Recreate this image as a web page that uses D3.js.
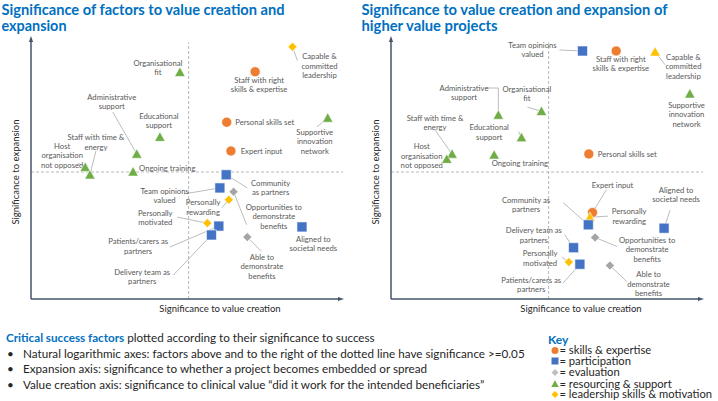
<!DOCTYPE html>
<html><head><meta charset="utf-8">
<script src="https://cdn.jsdelivr.net/npm/d3@7"></script>
<style>
html,body{margin:0;padding:0;background:#fff;}
svg{display:block;font-family:Lato,"Open Sans",sans-serif;}
</style></head><body>
<svg id="chart" width="718" height="401"></svg>
<script>
// ---------------- DATA ----------------
const factors = [
  "Capable & committed leadership", "Staff with right skills & expertise", "Organisational fit",
  "Administrative support", "Educational support", "Personal skills set",
  "Supportive innovation network", "Expert input", "Staff with time & energy",
  "Host organisation not opposed", "Ongoing training", "Community as partners",
  "Team opinions valued", "Opportunities to demonstrate benefits", "Personally rewarding",
  "Personally motivated", "Patients/carers as partners", "Delivery team as partners",
  "Aligned to societal needs", "Able to demonstrate benefits"
];
const groups = [4, 0, 3, 3, 3, 0, 3, 0, 3, 3, 3, 1, 1, 2, 4, 4, 1, 1, 1, 2];
const groupNames = ["skills & expertise", "participation", "evaluation", "resourcing & support", "leadership skills & motivation"];

// all projects: significance (natural log scale) to value creation / expansion
const allValueCreation = [4.97, 4.26, 2.83, 2.01, 2.45, 3.72, 5.64, 3.80, 1.12, 1.03, 1.94, 3.71, 3.59, 3.85, 3.76, 3.35, 3.57, 3.43, 5.15, 4.11];
const allExpansion     = [5.95, 5.36, 5.35, 3.42, 3.82, 4.17, 4.27, 3.49, 2.93, 3.11, 3.00, 2.93, 2.62, 2.53, 2.34, 1.79, 1.72, 1.51, 1.70, 1.46];
// higher value projects
const hvValueCreation  = [5.02, 4.28, 2.86, 2.04, 2.48, 3.76, 5.68, 3.83, 1.16, 1.06, 1.96, 3.75, 3.64, 3.88, 3.78, 3.38, 3.59, 3.47, 5.19, 4.16];
const hvExpansion      = [5.83, 5.85, 4.43, 4.34, 3.81, 3.42, 4.84, 2.04, 3.42, 3.30, 3.40, 1.75, 5.85, 1.45, 1.93, 0.87, 0.82, 1.21, 1.67, 0.79];

const threshold = -Math.log(0.05);
const xDomain = [0, 5.93];
const yDomain = [0, 6.18];

const chartTitles = [
  ["Significance of factors to value creation and", "expansion"],
  ["Significance to value creation and expansion of", "higher value projects"]
];
const xAxisTitle = "Significance to value creation";
const yAxisTitle = "Significance to expansion";
const introLead = "Critical success factors";
const introRest = " plotted according to their significance to success";
const bullets = [
  "Natural logarithmic axes: factors above and to the right of the dotted line have significance >=0.05",
  "Expansion axis: significance to whether a project becomes embedded or spread",
  "Value creation axis: significance to clinical value \u201cdid it work for the intended beneficiaries\u201d"
];

// ---------------- STYLE / LAYOUT ----------------
const colors = ["#ED7D31", "#4472C4", "#A5A5A5", "#70AD47", "#FFC000"];
const shapes = ["circle", "square", "diamond", "triangle", "diamond"];
const labelColor = "#595959";
const axisColor = "#44546A";

const leftLabels = [
  {l:["Capable &","committed","leadership"], dx:27, dy:10, a:"middle", ld:[[5,14]]},
  {l:["Staff with right","skills & expertise"], dx:4, dy:8.5, a:"middle"},
  {l:["Organisational","fit"], dx:-22, dy:-9, a:"middle"},
  {l:["Administrative","support"], dx:-25, dy:-57, a:"middle", ld:[[-24,-42]]},
  {l:["Educational","support"], dx:-1, dy:-21, a:"middle"},
  {l:["Personal skills set"], dx:8.5, dy:0, a:"start"},
  {l:["Supportive","innovation","network"], dx:-13, dy:14, a:"middle", ld:[[-11,9]]},
  {l:["Expert input"], dx:9.7, dy:0, a:"start"},
  {l:["Staff with time &","energy"], dx:6, dy:-37, a:"middle", ld:[[6,-24]]},
  {l:["Host","organisation","not opposed"], dx:-23, dy:-21, a:"middle", ld:[[-7,-4]]},
  {l:["Ongoing training"], dx:6, dy:-3.7, a:"start"},
  {l:["Community","as partners"], dx:44.4, dy:8.3, a:"middle", ld:[[21,13]]},
  {l:["Team opinions","valued"], dx:-55.3, dy:3, a:"middle", ld:[[-36,6]]},
  {l:["Opportunities to","demonstrate","benefits"], dx:40.3, dy:15.3, a:"middle", ld:[[13,33]]},
  {l:["Personally","rewarding"], dx:-25.7, dy:3, a:"middle", ld:[[-7,8]]},
  {l:["Personally","motivated"], dx:-52, dy:-10.3, a:"middle", ld:[[-30,-6]]},
  {l:["Patients/carers as","partners"], dx:-80.7, dy:15.7, a:"middle", ld:[[-49,21]]},
  {l:["Delivery team as","partners"], dx:-69.3, dy:37, a:"middle", ld:[[-38,40]]},
  {l:["Aligned to","societal needs"], dx:11.3, dy:12, a:"middle"},
  {l:["Able to","demonstrate","benefits"], dx:14.7, dy:19.7, a:"middle", ld:[[14,14]]}
];
const rightLabels = [
  {l:["Capable &","committed","leadership"], dx:28.3, dy:5.3, a:"middle", ld:[[10,13]], shape:"triangle"},
  {l:["Staff with right","skills & expertise"], dx:4.7, dy:8, a:"middle"},
  {l:["Organisational","fit"], dx:-14.6, dy:-22, a:"middle", ld:[[-14,-4]]},
  {l:["Administrative","support"], dx:-34.3, dy:-27, a:"middle", ld:[[0,-27],[-13,-27]]},
  {l:["Educational","support"], dx:-32.3, dy:-9.7, a:"middle", ld:[[-3,-6]]},
  {l:["Personal skills set"], dx:9, dy:0, a:"start"},
  {l:["Supportive","innovation","network"], dx:-3.3, dy:11, a:"middle"},
  {l:["Expert input"], dx:20, dy:-27, a:"middle", ld:[[14,-23]]},
  {l:["Staff with time &","energy"], dx:-17, dy:-36, a:"middle", ld:[[-17,-24]]},
  {l:["Host","organisation","not opposed"], dx:-25, dy:-12.3, a:"middle"},
  {l:["Ongoing training"], dx:25.7, dy:8.3, a:"middle"},
  {l:["Community as","partners"], dx:-62.3, dy:-24.7, a:"middle", ld:[[-25,-22]]},
  {l:["Team opinions","valued"], dx:-50, dy:-6, a:"middle", ld:[[-23,-1]]},
  {l:["Opportunities to","demonstrate","benefits"], dx:52, dy:2.3, a:"middle", ld:[[22,9]]},
  {l:["Personally","rewarding"], dx:39.3, dy:-5.6, a:"middle", ld:[[18,-1]], shape:"triangle"},
  {l:["Personally","motivated"], dx:-28.7, dy:-8.6, a:"middle", ld:[[-7,-5]]},
  {l:["Patients/carers as","partners"], dx:-48.7, dy:16, a:"middle", ld:[[-17,19]]},
  {l:["Delivery team as","partners"], dx:-39.7, dy:-17, a:"middle", ld:[[-9,-13]]},
  {l:["Aligned to","societal needs"], dx:12, dy:-38.3, a:"middle", ld:[[6,-18]]},
  {l:["Able to","demonstrate","benefits"], dx:38.7, dy:9, a:"middle", ld:[[17,16]]}
];

const svg = d3.select("#chart");
const defs = svg.append("defs");
defs.append("marker").attr("id","arr").attr("viewBox","0 0 10 10").attr("refX",5).attr("refY",5)
  .attr("markerWidth",4).attr("markerHeight",4).attr("orient","auto")
  .append("path").attr("d","M0,1.5 L10,5 L0,8.5 Z").attr("fill",axisColor);

function symbolPath(shape, s) {
  if (shape === "circle") return d3.symbol(d3.symbolCircle, Math.PI * s * s / 4)();
  if (shape === "square") return d3.symbol(d3.symbolSquare, s * s)();
  if (shape === "diamond") { const h = s / 2; return `M0,${-h}L${h},0L0,${h}L${-h},0Z`; }
  if (shape === "triangle") { const h = s * 0.9; return `M0,${-h*0.55}L${s/2},${h*0.45}L${-s/2},${h*0.45}Z`; }
}
const markerSize = {circle:10, square:10, diamond:9, triangle:10.5};

function drawChart(cfg) {
  const g = svg.append("g");
  const x = d3.scaleLinear().domain(xDomain).range([cfg.x0, cfg.x1]);
  const y = d3.scaleLinear().domain(yDomain).range([cfg.yBot, cfg.yTop]);

  // title
  const t = g.append("text").attr("fill","#0070C0").attr("font-weight","bold").attr("font-size",14.5);
  cfg.title.forEach((line, i) => t.append("tspan").attr("x", cfg.titleX).attr("y", 14.5 + i*16)
    .attr("textLength", cfg.titleW[i]).attr("lengthAdjust","spacingAndGlyphs").text(line));

  // threshold dashed lines
  g.append("line").attr("x1", x(threshold)).attr("x2", x(threshold)).attr("y1", cfg.yBot).attr("y2", 42.5)
    .attr("stroke","#A6A6A6").attr("stroke-width",0.8).attr("stroke-dasharray","3,2");
  g.append("line").attr("x1", cfg.x0).attr("x2", cfg.x1).attr("y1", y(threshold)).attr("y2", y(threshold))
    .attr("stroke","#A6A6A6").attr("stroke-width",0.8).attr("stroke-dasharray","3,2");

  // axes with arrows
  g.append("line").attr("x1", cfg.x0).attr("y1", cfg.yBot).attr("x2", cfg.x0).attr("y2", cfg.yTop + 2)
    .attr("stroke", axisColor).attr("stroke-width",1.5).attr("marker-end","url(#arr)");
  g.append("line").attr("x1", cfg.x0).attr("y1", cfg.yBot).attr("x2", cfg.x1 - 2).attr("y2", cfg.yBot)
    .attr("stroke", axisColor).attr("stroke-width",1.5).attr("marker-end","url(#arr)");

  // axis titles
  g.append("text").attr("x", cfg.xTitleX).attr("y", 312).attr("text-anchor","middle")
    .attr("font-size",9.5).attr("fill","#262626").text(xAxisTitle);
  g.append("text").attr("transform", `translate(${cfg.x0 - 12},172) rotate(-90)`).attr("text-anchor","middle")
    .attr("font-size",9.5).attr("fill","#262626").text(yAxisTitle);

  const pts = factors.map((f, i) => ({i, name:f, g:groups[i], px:x(cfg.vx[i]), py:y(cfg.vy[i]), lay:cfg.labels[i]}));

  // leader lines
  pts.forEach(p => {
    if (!p.lay.ld) return;
    const path = d3.path();
    path.moveTo(p.px, p.py);
    p.lay.ld.forEach(o => path.lineTo(p.px + o[0], p.py + o[1]));
    g.append("path").attr("d", path.toString()).attr("fill","none").attr("stroke","#A6A6A6").attr("stroke-width",0.75);
  });

  // labels
  pts.forEach(p => {
    const tx = g.append("text").attr("font-size",7.7).attr("fill",labelColor).attr("text-anchor", p.lay.a);
    p.lay.l.forEach((line, k) => tx.append("tspan").attr("x", p.px + p.lay.dx)
      .attr("y", p.py + p.lay.dy + k*9.5 + 2.7).text(line));
  });

  // markers (drawn top to bottom so lower ones overlap)
  pts.slice().sort((a,b) => a.py - b.py).forEach(p => {
    const shape = p.lay.shape || shapes[p.g];
    g.append("path").attr("d", symbolPath(shape, markerSize[shape]))
      .attr("transform", `translate(${p.px},${p.py})`)
      .attr("fill", colors[p.g]).attr("stroke","#fff").attr("stroke-width",0.6);
  });
}

drawChart({x0:31, x1:343, yTop:37, yBot:299, titleX:1.5, title:chartTitles[0], titleW:[283, 65], xTitleX:220,
  vx:allValueCreation, vy:allExpansion, labels:leftLabels});
drawChart({x0:391, x1:703, yTop:37, yBot:299, titleX:361.5, title:chartTitles[1], titleW:[306, 136], xTitleX:581,
  vx:hvValueCreation, vy:hvExpansion, labels:rightLabels});

// bottom notes
const noteSize = 11.7;
const intro = svg.append("text").attr("x",6).attr("y",342).attr("font-size",noteSize).attr("fill","#262626");
intro.append("tspan").attr("fill","#0070C0").attr("font-weight","bold").text(introLead);
intro.append("tspan").text(introRest);
bullets.forEach((b, i) => {
  svg.append("text").attr("x",7).attr("y",357.5 + i*15.8).attr("font-size",noteSize).attr("fill","#262626").text("\u2022");
  svg.append("text").attr("x",23).attr("y",357.5 + i*15.8).attr("font-size",noteSize).attr("fill","#262626").text(b);
});

// key
svg.append("text").attr("x",548).attr("y",343.5).attr("font-size",12).attr("font-weight","bold").attr("fill","#0070C0").text("Key");
const keyY = [350.5, 361, 372.5, 384, 394.5];
const keySize = {circle:7, square:7, diamond:7, triangle:7.5};
groupNames.forEach((nm, i) => {
  const sh = shapes[i];
  svg.append("path").attr("d", symbolPath(sh, keySize[sh])).attr("transform", `translate(555,${keyY[i]})`)
    .attr("fill", i === 2 ? "#BFBFBF" : colors[i]);
  svg.append("text").attr("x",559.5).attr("y", keyY[i] + 3.6).attr("font-size",11.2).attr("fill","#262626").text("= " + nm);
});
</script>
</body></html>
